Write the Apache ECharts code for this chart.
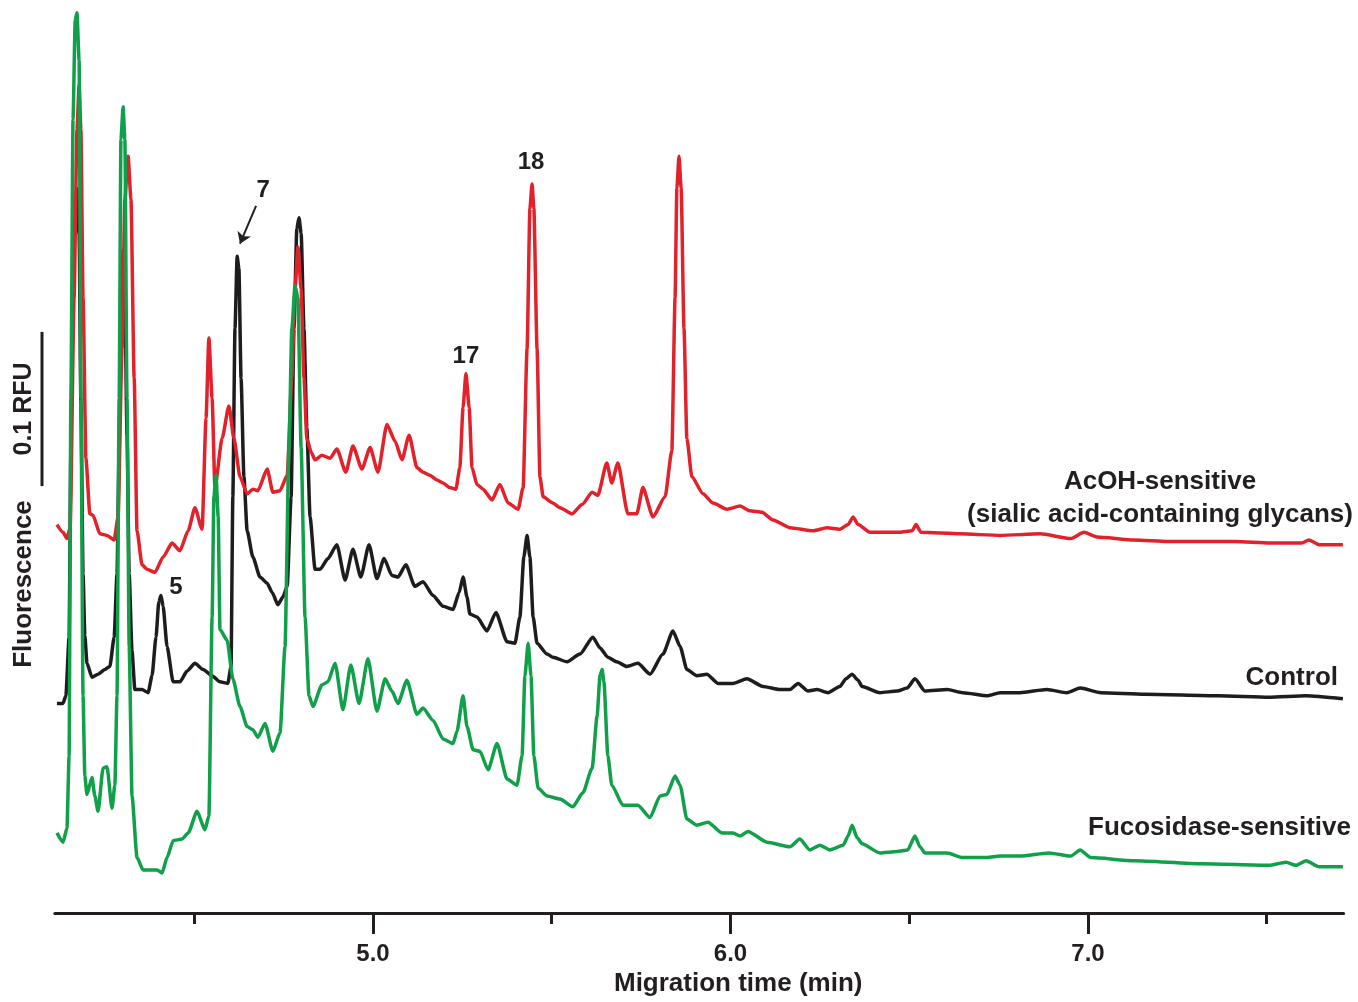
<!DOCTYPE html>
<html>
<head>
<meta charset="utf-8">
<script src="https://cdn.jsdelivr.net/npm/echarts@6/dist/echarts.min.js"></script>
<style>
html,body{margin:0;padding:0;background:#ffffff;}
#chart{width:1358px;height:1002px;}
</style>
</head>
<body>
<div id="chart"></div>
<script>
// Migration time (min) and displayed fluorescence (RFU, stacked traces as drawn)
const acohTime = [4.116,4.133,4.144,4.153,4.164,4.172,4.178,4.183,4.189,4.197,4.208,4.217,4.236,4.256,4.276,4.287,4.298,4.306,4.315,4.323,4.332,4.340,4.354,4.368,4.390,4.413,4.438,4.460,4.483,4.502,4.522,4.533,4.541,4.550,4.558,4.578,4.597,4.611,4.628,4.648,4.664,4.678,4.704,4.720,4.740,4.760,4.773,4.782,4.790,4.799,4.807,4.815,4.827,4.838,4.857,4.880,4.899,4.924,4.944,4.969,4.992,5.014,5.039,5.062,5.081,5.101,5.123,5.140,5.159,5.179,5.196,5.215,5.232,5.243,5.252,5.260,5.269,5.277,5.291,5.308,5.333,5.355,5.378,5.406,5.420,5.431,5.439,5.445,5.450,5.459,5.467,5.476,5.503,5.523,5.557,5.585,5.613,5.629,5.654,5.668,5.685,5.713,5.738,5.755,5.783,5.817,5.836,5.845,5.850,5.856,5.862,5.870,5.878,5.892,5.923,5.951,5.990,6.027,6.054,6.088,6.119,6.166,6.231,6.270,6.306,6.329,6.343,6.357,6.390,6.474,6.508,6.519,6.533,6.642,6.754,6.866,6.952,6.989,7.025,7.129,7.224,7.411,7.509,7.598,7.618,7.646,7.713];
const acohRFU = [0.252,0.247,0.243,0.250,0.399,0.508,0.537,0.508,0.399,0.295,0.259,0.258,0.246,0.245,0.242,0.257,0.366,0.463,0.491,0.463,0.347,0.248,0.226,0.223,0.221,0.231,0.240,0.235,0.248,0.263,0.249,0.321,0.373,0.334,0.276,0.308,0.329,0.308,0.283,0.272,0.275,0.274,0.288,0.273,0.274,0.284,0.347,0.405,0.432,0.405,0.347,0.308,0.299,0.294,0.297,0.295,0.301,0.286,0.303,0.288,0.302,0.286,0.317,0.306,0.294,0.310,0.289,0.286,0.284,0.281,0.279,0.276,0.275,0.289,0.328,0.350,0.328,0.289,0.278,0.275,0.268,0.278,0.266,0.262,0.276,0.366,0.457,0.473,0.457,0.366,0.283,0.270,0.266,0.263,0.259,0.265,0.273,0.271,0.292,0.279,0.292,0.259,0.259,0.276,0.257,0.270,0.300,0.399,0.470,0.491,0.470,0.379,0.308,0.283,0.272,0.266,0.262,0.264,0.261,0.260,0.255,0.250,0.248,0.250,0.249,0.252,0.257,0.252,0.247,0.247,0.248,0.252,0.247,0.246,0.245,0.246,0.243,0.247,0.244,0.242,0.241,0.241,0.240,0.240,0.242,0.239,0.239];

const controlTime = [4.116,4.133,4.141,4.150,4.155,4.161,4.167,4.172,4.178,4.183,4.189,4.194,4.200,4.214,4.231,4.250,4.264,4.276,4.284,4.290,4.295,4.301,4.306,4.312,4.318,4.326,4.334,4.354,4.371,4.382,4.393,4.401,4.407,4.413,4.424,4.441,4.460,4.480,4.502,4.525,4.550,4.572,4.594,4.603,4.608,4.614,4.620,4.625,4.631,4.639,4.648,4.664,4.684,4.704,4.718,4.734,4.748,4.760,4.771,4.779,4.787,4.793,4.799,4.807,4.815,4.824,4.838,4.852,4.874,4.899,4.922,4.944,4.966,4.989,5.011,5.031,5.053,5.070,5.092,5.117,5.140,5.168,5.196,5.224,5.241,5.252,5.263,5.271,5.291,5.319,5.344,5.375,5.397,5.411,5.422,5.431,5.439,5.448,5.459,5.487,5.503,5.543,5.579,5.615,5.635,5.657,5.682,5.710,5.741,5.775,5.811,5.839,5.859,5.878,5.906,5.934,5.965,6.007,6.046,6.091,6.138,6.166,6.189,6.217,6.242,6.273,6.306,6.323,6.340,6.357,6.368,6.418,6.466,6.494,6.516,6.544,6.606,6.650,6.720,6.754,6.810,6.885,6.941,6.978,7.036,7.159,7.364,7.506,7.610,7.713];
const controlRFU = [0.136,0.136,0.141,0.179,0.300,0.420,0.460,0.470,0.440,0.330,0.220,0.180,0.162,0.153,0.155,0.158,0.160,0.179,0.220,0.300,0.400,0.430,0.400,0.310,0.220,0.170,0.145,0.145,0.143,0.154,0.179,0.202,0.206,0.199,0.173,0.150,0.150,0.157,0.162,0.158,0.154,0.150,0.149,0.160,0.270,0.379,0.426,0.418,0.347,0.283,0.248,0.231,0.218,0.214,0.208,0.200,0.205,0.212,0.270,0.379,0.444,0.451,0.441,0.379,0.315,0.257,0.223,0.223,0.230,0.239,0.216,0.236,0.218,0.239,0.217,0.230,0.219,0.218,0.226,0.212,0.215,0.206,0.199,0.197,0.208,0.218,0.205,0.194,0.192,0.183,0.195,0.176,0.175,0.192,0.231,0.245,0.231,0.192,0.175,0.168,0.166,0.163,0.168,0.179,0.172,0.166,0.163,0.160,0.162,0.155,0.168,0.183,0.173,0.158,0.154,0.155,0.149,0.149,0.152,0.147,0.145,0.145,0.149,0.144,0.145,0.143,0.147,0.152,0.155,0.151,0.147,0.143,0.144,0.146,0.152,0.144,0.145,0.143,0.141,0.143,0.143,0.145,0.143,0.146,0.143,0.142,0.141,0.140,0.141,0.139];

const fucoTime = [4.116,4.133,4.144,4.150,4.155,4.161,4.167,4.172,4.178,4.183,4.189,4.194,4.200,4.214,4.222,4.231,4.245,4.256,4.270,4.278,4.284,4.290,4.295,4.301,4.306,4.312,4.318,4.326,4.340,4.357,4.396,4.410,4.424,4.441,4.466,4.483,4.508,4.530,4.541,4.550,4.555,4.561,4.567,4.572,4.592,4.608,4.628,4.648,4.664,4.678,4.698,4.720,4.740,4.754,4.765,4.773,4.782,4.790,4.799,4.810,4.821,4.832,4.857,4.874,4.894,4.916,4.938,4.961,4.986,5.011,5.034,5.053,5.070,5.095,5.123,5.140,5.168,5.196,5.224,5.235,5.252,5.263,5.280,5.299,5.322,5.347,5.375,5.403,5.417,5.425,5.434,5.442,5.450,5.462,5.487,5.523,5.559,5.587,5.613,5.627,5.635,5.641,5.646,5.657,5.668,5.699,5.741,5.775,5.803,5.822,5.845,5.859,5.878,5.906,5.937,5.976,6.007,6.027,6.049,6.102,6.166,6.194,6.222,6.250,6.278,6.315,6.329,6.340,6.354,6.368,6.418,6.466,6.496,6.516,6.530,6.544,6.606,6.650,6.717,6.754,6.810,6.891,6.952,6.978,7.008,7.129,7.319,7.506,7.554,7.582,7.610,7.646,7.713];
const fucoRFU = [0.052,0.046,0.055,0.102,0.334,0.515,0.579,0.584,0.553,0.334,0.141,0.089,0.077,0.088,0.076,0.066,0.094,0.095,0.068,0.083,0.141,0.334,0.502,0.523,0.502,0.334,0.173,0.076,0.036,0.028,0.028,0.026,0.036,0.047,0.048,0.052,0.066,0.054,0.063,0.192,0.270,0.284,0.257,0.184,0.177,0.152,0.134,0.121,0.119,0.114,0.123,0.105,0.117,0.173,0.302,0.379,0.407,0.399,0.302,0.192,0.141,0.134,0.148,0.150,0.162,0.132,0.161,0.136,0.165,0.131,0.152,0.144,0.136,0.151,0.129,0.133,0.125,0.113,0.110,0.118,0.141,0.121,0.106,0.105,0.093,0.110,0.087,0.083,0.102,0.154,0.175,0.154,0.102,0.081,0.076,0.074,0.069,0.078,0.094,0.128,0.154,0.158,0.150,0.102,0.083,0.070,0.070,0.062,0.076,0.077,0.089,0.083,0.061,0.057,0.059,0.052,0.052,0.050,0.053,0.046,0.043,0.048,0.041,0.044,0.041,0.044,0.050,0.057,0.049,0.045,0.039,0.040,0.041,0.050,0.043,0.039,0.039,0.036,0.036,0.037,0.037,0.039,0.037,0.041,0.036,0.034,0.032,0.031,0.033,0.031,0.034,0.030,0.030];

const majorTicks = [5.0, 6.0, 7.0];
const minorTicks = [4.5, 5.5, 6.5, 7.5];
const peakLabels17_18 = [
  {name:'17', t:5.260, v:0.350},
  {name:'18', t:5.445, v:0.473}
];
const peakLabel5 = {name:'5', t:4.407, v:0.206};
const peakLabel7 = {name:'7', t:4.620, v:0.426};
const arrow7 = [[4.673, 0.4587], [4.628, 0.4342]];
const scaleBar = {from:0.277, length:0.1, label:'0.1 RFU'};

const FONT = '"Liberation Sans", Arial, sans-serif';
const INK = '#231f20';
const LW = 3.5;
const zip = (a, b) => a.map((t, i) => [t, b[i]]);

const chart = echarts.init(document.getElementById('chart'), null, {renderer:'canvas'});
const X_MIN = 4.11, X_MAX = 7.715, Y_MAX = 0.5871;

const option = {
  backgroundColor: '#ffffff',
  animation: false,
  grid: {left: 54.8, right: 14.4, top: 8, bottom: 84, containLabel: false},
  xAxis: [
    {
      type: 'value', min: X_MIN, max: X_MAX, position: 'bottom',
      name: 'Migration time (min)', nameLocation: 'middle', nameGap: 54,
      nameTextStyle: {fontFamily: FONT, fontWeight: 'bold', fontSize: 26, color: INK, padding: [0, 0, 0, 78]},
      axisLine: {show: true, lineStyle: {color: INK, width: 3}},
      axisTick: {show: true, inside: false, length: 21, customValues: majorTicks, lineStyle: {color: INK, width: 3}},
      axisLabel: {show: true, customValues: majorTicks, margin: 29, formatter: v => v.toFixed(1),
        fontFamily: FONT, fontWeight: 'bold', fontSize: 24, color: INK},
      splitLine: {show: false}
    },
    {
      type: 'value', min: X_MIN, max: X_MAX, position: 'bottom',
      axisLine: {show: false},
      axisTick: {show: true, inside: false, length: 11, customValues: minorTicks, lineStyle: {color: INK, width: 3}},
      axisLabel: {show: false},
      splitLine: {show: false}
    }
  ],
  yAxis: {type: 'value', min: 0, max: Y_MAX, show: false, splitLine: {show: false}},
  series: [
    {
      name: 'Control', type: 'line', xAxisIndex: 0, data: zip(controlTime, controlRFU),
      showSymbol: false, smooth: 0.2, smoothMonotone: 'x',
      lineStyle: {color: '#1f1c1d', width: LW}, itemStyle: {color: '#1f1c1d'},
      markPoint: {
        symbol: 'rect', symbolSize: 1, itemStyle: {color: 'rgba(0,0,0,0)'},
        label: {show: true, formatter: '{b}', fontFamily: FONT, fontWeight: 'bold', fontSize: 24, color: INK},
        data: [
          {name: peakLabel5.name, coord: [peakLabel5.t, peakLabel5.v], label: {position: 'inside', offset: [15, -8]}},
          {name: peakLabel7.name, coord: [peakLabel7.t, peakLabel7.v], label: {position: 'inside', offset: [26, -66]}}
        ]
      },
      markLine: {
        silent: true, symbol: ['none', 'arrow'], symbolSize: 11,
        label: {show: false},
        lineStyle: {color: INK, width: 2, type: 'solid'},
        data: [[{coord: arrow7[0]}, {coord: arrow7[1]}]]
      }
    },
    {
      name: 'AcOH-sensitive', type: 'line', xAxisIndex: 0, data: zip(acohTime, acohRFU),
      showSymbol: false, smooth: 0.2, smoothMonotone: 'x',
      lineStyle: {color: '#e3212a', width: LW}, itemStyle: {color: '#e3212a'},
      markPoint: {
        symbol: 'rect', symbolSize: 1, itemStyle: {color: 'rgba(0,0,0,0)'},
        label: {show: true, formatter: '{b}', fontFamily: FONT, fontWeight: 'bold', fontSize: 24, color: INK},
        data: [
          {name: peakLabels17_18[0].name, coord: [peakLabels17_18[0].t, peakLabels17_18[0].v], label: {position: 'inside', offset: [0, -17]}},
          {name: peakLabels17_18[1].name, coord: [peakLabels17_18[1].t, peakLabels17_18[1].v], label: {position: 'inside', offset: [-1, -22]}}
        ]
      }
    },
    {
      name: 'Fucosidase-sensitive', type: 'line', xAxisIndex: 0, data: zip(fucoTime, fucoRFU),
      showSymbol: false, smooth: 0.2, smoothMonotone: 'x',
      lineStyle: {color: '#10a04a', width: LW}, itemStyle: {color: '#10a04a'}
    }
  ]
};
chart.setOption(option);

function drawOverlay() {
  const yTop = chart.convertToPixel({yAxisIndex: 0}, scaleBar.from + scaleBar.length);
  const yBot = chart.convertToPixel({yAxisIndex: 0}, scaleBar.from);
  const txt = (text, x, y, align) => ({
    type: 'text', x: x, y: y,
    style: {text: text, fontFamily: FONT, fontWeight: 'bold', fontSize: 26, fill: INK, align: align, verticalAlign: 'middle'}
  });
  chart.setOption({
    graphic: [
      {type: 'line', shape: {x1: 42, y1: yTop, x2: 42, y2: yBot}, style: {stroke: INK, lineWidth: 3}},
      {type: 'text', x: 24, y: (yTop + yBot) / 2, rotation: Math.PI / 2,
        style: {text: scaleBar.label, fontFamily: FONT, fontWeight: 'bold', fontSize: 25, fill: INK, align: 'center', verticalAlign: 'middle'}},
      {type: 'text', x: 24, y: 584, rotation: Math.PI / 2,
        style: {text: 'Fluorescence', fontFamily: FONT, fontWeight: 'bold', fontSize: 26, fill: INK, align: 'center', verticalAlign: 'middle'}},
      txt('AcOH-sensitive', 1160, 482, 'center'),
      txt('(sialic acid-containing glycans)', 1160, 515, 'center'),
      txt('Control', 1338, 678, 'right'),
      txt('Fucosidase-sensitive', 1351, 828, 'right')
    ]
  });
}
drawOverlay();
</script>
</body>
</html>
